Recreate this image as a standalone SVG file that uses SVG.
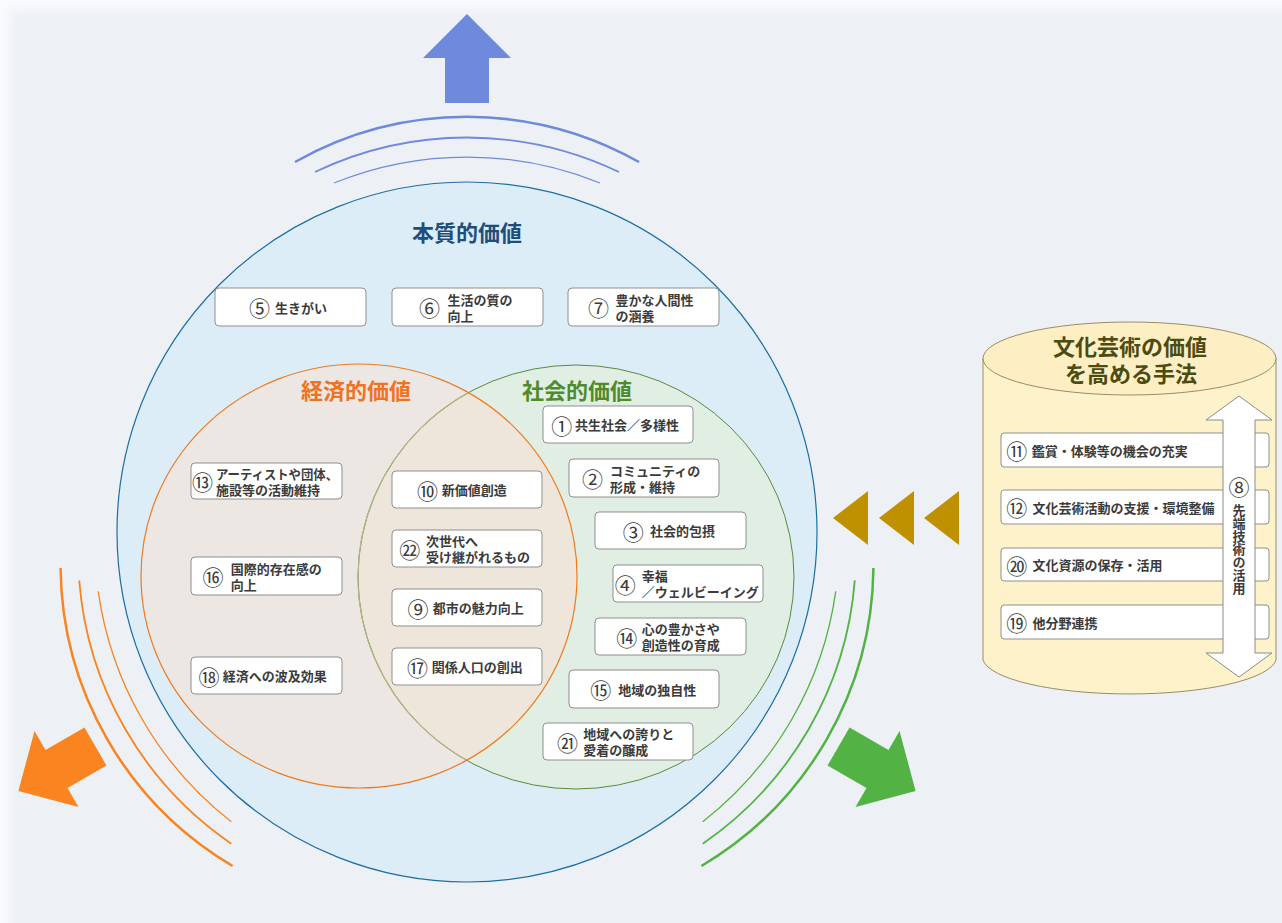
<svg xmlns="http://www.w3.org/2000/svg" xmlns:xlink="http://www.w3.org/1999/xlink" width="1282" height="923" viewBox="0 0 1282 923">
<style>
.box{fill:#fff;stroke:#8f8f8f;stroke-width:1}
.t{font-family:"Noto Sans CJK JP","Noto Sans",sans-serif;font-size:13px;font-weight:700;fill:#3b3b3b;dominant-baseline:central}
.n{font-family:"Noto Sans CJK JP","Noto Sans",sans-serif;font-size:21px;font-weight:400;fill:#3b3b3b;text-anchor:middle;dominant-baseline:central}
.title{font-family:"Noto Sans CJK JP","Noto Sans",sans-serif;font-size:22px;font-weight:700;text-anchor:middle;dominant-baseline:central}
.arc{fill:none;stroke:currentColor}
</style>
<defs>
<filter id="soft" x="-5%" y="-5%" width="110%" height="110%"><feGaussianBlur stdDeviation="5"/></filter>
<g id="burst">
<polygon points="467,14 511,58 489,58 489,103 445,103 445,58 423,58" fill="currentColor"/>
<path class="arc" d="M295,162 A350,350 0 0 1 639,162" stroke-width="2.5"/>
<path class="arc" d="M315,172 A352,352 0 0 1 619,172" stroke-width="1.8"/>
<path class="arc" d="M334,183 A354,354 0 0 1 600,183" stroke-width="1.3"/>
</g>
<clipPath id="econClip"><ellipse cx="359" cy="576" rx="218" ry="212"/></clipPath>
</defs>

<rect width="1282" height="923" fill="#f8fafc"/>
<rect x="10" y="10" width="1300" height="960" fill="#edf1f5" filter="url(#soft)"/>

<g id="bursts">
<use xlink:href="#burst" href="#burst" color="#6f89dc"/>
<use xlink:href="#burst" href="#burst" color="#f98420" transform="rotate(-120 467 532)"/>
<use xlink:href="#burst" href="#burst" color="#52b243" transform="rotate(120 467 532)"/>
</g>

<g id="essential-circle">
<circle cx="467" cy="532" r="350" fill="#dcedf8" stroke="#1c6ea4" stroke-width="1.2"/>
<text class="title" x="467" y="231" fill="#1f4e79">本質的価値</text>
</g>

<g id="econ-social">
<ellipse cx="359" cy="576" rx="218" ry="212" fill="#ece7e3"/>
<ellipse cx="576" cy="577" rx="218" ry="212" fill="#e0eee3"/>
<ellipse cx="576" cy="577" rx="218" ry="212" fill="#efe6db" clip-path="url(#econClip)"/>
<ellipse cx="576" cy="577" rx="218" ry="212" fill="none" stroke="#5a8a3a" stroke-width="1"/>
<ellipse cx="576" cy="577" rx="218" ry="212" fill="none" stroke="#b3b585" stroke-width="1.2" clip-path="url(#econClip)"/>
<ellipse cx="359" cy="576" rx="218" ry="212" fill="none" stroke="#f07a1e" stroke-width="1.2"/>
<text class="title" x="356" y="389" fill="#f0731f">経済的価値</text>
<text class="title" x="577" y="389" fill="#4f8a2b">社会的価値</text>
</g>

<g id="n5"><rect class="box" x="215" y="288" width="151" height="38" rx="4"/><text class="n" x="259.5" y="307">⑤</text><text class="t" x="275" y="307">生きがい</text></g>
<g id="n6"><rect class="box" x="392" y="288" width="151" height="38" rx="4"/><text class="n" x="429.5" y="307">⑥</text><text class="t" x="447.5" y="299">生活の質の</text><text class="t" x="447.5" y="315">向上</text></g>
<g id="n7"><rect class="box" x="568" y="288" width="151" height="38" rx="4"/><text class="n" x="598.5" y="307">⑦</text><text class="t" x="615.5" y="299">豊かな人間性</text><text class="t" x="615.5" y="315">の涵養</text></g>

<g id="n13"><rect class="box" x="191" y="463" width="151" height="36" rx="4"/><text class="n" x="202.5" y="481">⑬</text><text class="t" x="216" y="473" textLength="122" lengthAdjust="spacingAndGlyphs">アーティストや団体、</text><text class="t" x="216" y="489">施設等の活動維持</text></g>
<g id="n16"><rect class="box" x="191" y="557" width="151" height="38" rx="4"/><text class="n" x="213" y="576">⑯</text><text class="t" x="230.7" y="568.5">国際的存在感の</text><text class="t" x="230.7" y="584.5">向上</text></g>
<g id="n18"><rect class="box" x="191" y="657" width="151" height="37" rx="4"/><text class="n" x="209" y="675.5">⑱</text><text class="t" x="222.7" y="675.5">経済への波及効果</text></g>

<g id="n10"><rect class="box" x="392" y="471" width="150" height="37" rx="4"/><text class="n" x="427.5" y="489.5">⑩</text><text class="t" x="441.7" y="489.5">新価値創造</text></g>
<g id="n22"><rect class="box" x="392" y="530" width="150" height="37" rx="4"/><text class="n" x="409.7" y="548.5">㉒</text><text class="t" x="426" y="540.5">次世代へ</text><text class="t" x="426" y="556.5">受け継がれるもの</text></g>
<g id="n9"><rect class="box" x="392" y="589" width="150" height="37" rx="4"/><text class="n" x="418" y="607.5">⑨</text><text class="t" x="432.7" y="607.5">都市の魅力向上</text></g>
<g id="n17"><rect class="box" x="392" y="648" width="150" height="37" rx="4"/><text class="n" x="417.5" y="666.5">⑰</text><text class="t" x="431.7" y="666.5">関係人口の創出</text></g>

<g id="n1"><rect class="box" x="543" y="406" width="150" height="37" rx="4"/><text class="n" x="561.7" y="424.5">①</text><text class="t" x="575" y="424.5">共生社会／多様性</text></g>
<g id="n2"><rect class="box" x="569" y="459" width="150" height="38" rx="4"/><text class="n" x="592.5" y="478">②</text><text class="t" x="610" y="470">コミュニティの</text><text class="t" x="610" y="486">形成・維持</text></g>
<g id="n3"><rect class="box" x="595" y="512" width="151" height="37" rx="4"/><text class="n" x="633.3" y="530.5">③</text><text class="t" x="650" y="530.5">社会的包摂</text></g>
<g id="n4"><rect class="box" x="613" y="565" width="150" height="37" rx="4"/><text class="n" x="625.3" y="583.5">④</text><text class="t" x="641.7" y="575.5">幸福</text><text class="t" x="641.7" y="591.5">／ウェルビーイング</text></g>
<g id="n14"><rect class="box" x="595" y="618" width="151" height="37" rx="4"/><text class="n" x="626.7" y="636.5">⑭</text><text class="t" x="641.7" y="628.5">心の豊かさや</text><text class="t" x="641.7" y="644.5">創造性の育成</text></g>
<g id="n15"><rect class="box" x="569" y="670" width="150" height="38" rx="4"/><text class="n" x="600.8" y="689">⑮</text><text class="t" x="618.3" y="689">地域の独自性</text></g>
<g id="n21"><rect class="box" x="543" y="723" width="150" height="37" rx="4"/><text class="n" x="567.5" y="741.5">㉑</text><text class="t" x="583.3" y="733.5">地域への誇りと</text><text class="t" x="583.3" y="749.5">愛着の醸成</text></g>

<g id="inflow-arrows" fill="#bf9000">
<polygon points="833,518 868,491 868,545"/>
<polygon points="879,518 914,491 914,545"/>
<polygon points="924,518 959,491 959,545"/>
</g>

<g id="methods">
<path d="M983,358 L983,660 A147,37 0 0 0 1276,660 L1276,358 Z" fill="#fef2cb" stroke="#9a8c66" stroke-width="1"/>
<ellipse cx="1129.5" cy="358.5" rx="146.5" ry="36.5" fill="#fdefc3" stroke="#9a8c66" stroke-width="1"/>
<text class="title" x="1130" y="345" fill="#4b4b12">文化芸術の価値</text>
<text class="title" x="1131" y="372" fill="#4b4b12">を高める手法</text>
</g>

<g id="n11"><rect class="box" x="1001" y="433" width="268" height="34" rx="3"/><text class="n" x="1016.7" y="450">⑪</text><text class="t" x="1031.7" y="450">鑑賞・体験等の機会の充実</text></g>
<g id="n12"><rect class="box" x="1001" y="490" width="268" height="34" rx="3"/><text class="n" x="1016.7" y="507">⑫</text><text class="t" x="1032.5" y="507">文化芸術活動の支援・環境整備</text></g>
<g id="n20"><rect class="box" x="1001" y="548" width="268" height="33" rx="3"/><text class="n" x="1016.7" y="564.5">⑳</text><text class="t" x="1032.5" y="564.5">文化資源の保存・活用</text></g>
<g id="n19"><rect class="box" x="1001" y="605" width="268" height="34" rx="3"/><text class="n" x="1016.7" y="622">⑲</text><text class="t" x="1032.5" y="622">他分野連携</text></g>

<g id="n8">
<polygon points="1239,396 1272,420 1255,420 1255,653 1272,653 1239,677 1206,653 1223,653 1223,420 1206,420" fill="#fff" stroke="#8a8a8a" stroke-width="1"/>
<text class="n" x="1239" y="486">⑧</text>
<text x="1239" y="503.5" writing-mode="vertical-rl" style="font-family:'Noto Sans CJK JP','Noto Sans',sans-serif;font-size:13px;font-weight:700;fill:#3b3b3b">先端技術の活用</text>
</g>
</svg>
